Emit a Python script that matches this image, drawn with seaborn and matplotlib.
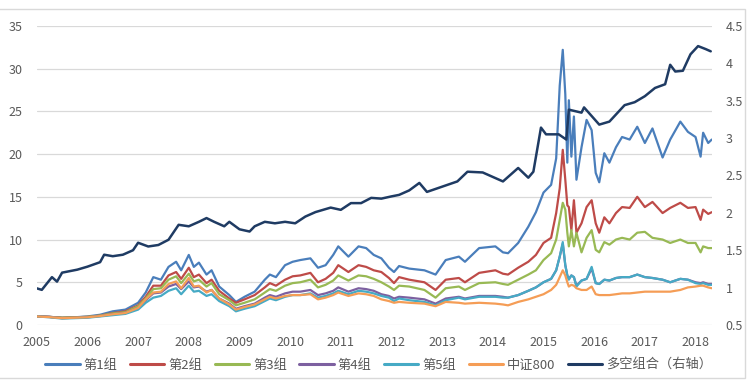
import numpy as np
import pandas as pd
import matplotlib
matplotlib.use("Agg")
import matplotlib.pyplot as plt
from matplotlib.lines import Line2D
from matplotlib.patches import Rectangle
import seaborn as sns

# 左轴各组净值（按日期取样读数）
dates = [2005.0, 2005.25, 2005.5, 2005.75, 2006.0, 2006.25, 2006.5, 2006.75, 2007.0, 2007.15,
         2007.3, 2007.45, 2007.6, 2007.75, 2007.85, 2008.0, 2008.1, 2008.2, 2008.35, 2008.45,
         2008.6, 2008.8, 2008.93, 2009.1, 2009.3, 2009.5, 2009.6, 2009.72, 2009.9, 2010.05,
         2010.2, 2010.4, 2010.55, 2010.7, 2010.85, 2010.95, 2011.15, 2011.35, 2011.5, 2011.65,
         2011.8, 2011.95, 2012.05, 2012.15, 2012.35, 2012.65, 2012.87, 2013.07, 2013.33, 2013.45,
         2013.73, 2014.05, 2014.2, 2014.3, 2014.5, 2014.7, 2014.85, 2015.0, 2015.15, 2015.25,
         2015.32, 2015.38, 2015.43, 2015.47, 2015.5, 2015.55, 2015.6, 2015.65, 2015.75, 2015.85,
         2015.95, 2016.03, 2016.1, 2016.2, 2016.3, 2016.43, 2016.55, 2016.7, 2016.85, 2017.0,
         2017.15, 2017.35, 2017.5, 2017.7, 2017.85, 2018.0, 2018.1, 2018.15, 2018.25, 2018.32]

g1 = [1.0, 0.95, 0.85, 0.9, 1.0, 1.2, 1.6, 1.8, 2.6, 3.8,
      5.6, 5.3, 6.8, 7.4, 6.4, 8.2, 6.8, 7.3, 5.9, 6.4,
      4.5, 3.5, 2.7, 3.3, 3.9, 5.3, 5.9, 5.6, 7.0, 7.4,
      7.6, 7.8, 6.7, 7.0, 8.2, 9.2, 8.0, 9.2, 9.0, 8.2,
      7.8, 6.7, 6.2, 6.9, 6.6, 6.4, 5.9, 7.6, 8.0, 7.4,
      9.0, 9.2, 8.5, 8.4, 9.6, 11.5, 13.2, 15.5, 16.4, 19.5,
      28.0, 32.2, 27.0, 19.0, 26.3, 19.7, 24.4, 17.0, 20.8, 24.0,
      22.8, 17.8, 16.7, 20.1, 19.0, 20.8, 22.0, 21.7, 23.2, 21.3,
      23.0, 19.6, 21.7, 23.8, 22.6, 22.0, 19.7, 22.5, 21.3, 21.7]

g2 = [1.0, 0.95, 0.85, 0.9, 0.95, 1.1, 1.4, 1.6, 2.3, 3.3,
      4.6, 4.6, 5.8, 6.2, 5.4, 6.7, 5.6, 5.9, 4.9, 5.3,
      4.0, 3.1, 2.6, 3.0, 3.5, 4.4, 4.9, 4.6, 5.3, 5.7,
      5.8, 6.1, 5.0, 5.4, 6.1, 7.0, 6.2, 7.0, 6.8, 6.4,
      6.2, 5.5, 4.9, 5.6, 5.3, 5.0, 4.1, 5.3, 5.5, 5.0,
      6.1, 6.4, 6.0, 5.9, 6.7, 7.4, 8.2, 9.6, 10.2, 13.1,
      16.0, 20.5, 17.0, 14.0, 13.8, 11.1, 14.6, 10.8, 11.9, 13.8,
      14.6, 11.9, 10.8, 12.6, 11.9, 13.1, 13.8, 13.7, 15.0, 13.8,
      14.4, 13.1, 13.7, 14.3, 13.7, 13.8, 12.3, 13.5, 13.0, 13.2]

g3 = [1.0, 0.95, 0.85, 0.9, 0.95, 1.1, 1.35, 1.5, 2.2, 3.1,
      4.2, 4.3, 5.3, 5.7, 4.9, 6.0, 5.1, 5.3, 4.5, 4.9,
      3.6, 2.9, 2.3, 2.6, 3.0, 3.8, 4.2, 4.0, 4.6, 4.9,
      5.0, 5.3, 4.4, 4.7, 5.2, 5.8, 5.2, 5.8, 5.7, 5.4,
      5.0, 4.5, 4.1, 4.6, 4.5, 4.1, 3.2, 4.3, 4.5, 4.1,
      4.9, 5.0, 4.8, 4.7, 5.3, 5.9, 6.4, 7.6, 8.4, 10.0,
      12.3, 14.3, 13.5, 10.8, 9.2, 11.1, 9.2, 10.8, 8.5, 10.2,
      11.1, 8.8, 8.5, 9.7, 9.4, 10.0, 10.2, 10.0, 10.8, 10.9,
      10.2, 10.0, 9.6, 10.0, 9.6, 9.6, 8.5, 9.2, 9.0, 9.0]

g4 = [1.0, 0.95, 0.8, 0.85, 0.9, 1.05, 1.25, 1.4, 2.0, 2.9,
      3.7, 3.8, 4.5, 4.8, 4.2, 5.1, 4.4, 4.5, 3.9, 4.1,
      3.1, 2.5, 1.9, 2.2, 2.5, 3.2, 3.5, 3.3, 3.7, 3.9,
      3.9, 4.1, 3.5, 3.7, 4.0, 4.4, 3.9, 4.3, 4.2, 4.0,
      3.6, 3.4, 3.1, 3.3, 3.2, 3.0, 2.5, 3.1, 3.3, 3.1,
      3.4, 3.4, 3.3, 3.2, 3.5, 4.0, 4.4, 5.0, 5.4, 6.4,
      8.0, 9.5, 7.0, 5.8, 5.4, 5.8, 5.6, 4.6, 5.2, 5.4,
      6.6, 4.9, 4.8, 5.3, 5.2, 5.5, 5.6, 5.6, 5.9, 5.6,
      5.5, 5.3, 5.0, 5.4, 5.3, 5.0, 4.9, 5.0, 4.8, 4.8]

g5 = [1.0, 0.9, 0.75, 0.8, 0.85, 1.0, 1.15, 1.3, 1.8, 2.6,
      3.2, 3.4, 4.0, 4.3, 3.6, 4.6, 3.9, 4.0, 3.4, 3.6,
      2.8, 2.2, 1.6, 1.9, 2.2, 2.8, 3.1, 2.9, 3.3, 3.5,
      3.5, 3.7, 3.2, 3.4, 3.7, 4.0, 3.6, 4.0, 3.9, 3.7,
      3.4, 3.2, 2.8, 3.1, 2.9, 2.7, 2.3, 2.9, 3.2, 3.0,
      3.3, 3.3, 3.2, 3.2, 3.5, 4.0, 4.4, 5.0, 5.4, 6.4,
      8.0, 9.7, 7.0, 5.8, 5.3, 5.8, 5.6, 4.5, 5.2, 5.4,
      6.8, 4.9, 4.8, 5.3, 5.2, 5.5, 5.6, 5.6, 5.9, 5.6,
      5.5, 5.3, 5.0, 5.4, 5.3, 4.9, 4.8, 4.9, 4.7, 4.7]

csi800 = [1.0, 0.92, 0.8, 0.85, 0.9, 1.05, 1.25, 1.4, 2.0, 3.0,
          3.8, 3.9, 4.8, 5.1, 4.3, 5.5, 4.5, 4.6, 3.8, 4.1,
          3.1, 2.4, 1.8, 2.1, 2.4, 3.0, 3.3, 3.1, 3.4, 3.5,
          3.5, 3.6, 3.0, 3.2, 3.5, 3.8, 3.4, 3.7, 3.6, 3.4,
          3.0, 2.8, 2.6, 2.7, 2.6, 2.5, 2.2, 2.7, 2.6, 2.5,
          2.6, 2.5, 2.4, 2.3, 2.7, 3.0, 3.3, 3.6, 4.1, 4.7,
          5.6, 6.4, 5.8, 5.0, 4.5, 4.7, 4.6, 4.3, 4.1, 4.1,
          4.5, 3.6, 3.5, 3.5, 3.5, 3.6, 3.7, 3.7, 3.8, 3.9,
          3.9, 3.9, 3.9, 4.1, 4.4, 4.5, 4.6, 4.6, 4.4, 4.3]

# 多空组合（右轴）
ls_dates = [2005.0, 2005.1, 2005.3, 2005.4, 2005.5, 2005.8, 2006.0, 2006.25, 2006.33, 2006.5,
            2006.7, 2006.9, 2007.0, 2007.2, 2007.4, 2007.6, 2007.8, 2008.0, 2008.2, 2008.35,
            2008.5, 2008.7, 2008.8, 2009.0, 2009.2, 2009.3, 2009.5, 2009.7, 2009.9, 2010.1,
            2010.3, 2010.5, 2010.8, 2011.0, 2011.2, 2011.4, 2011.6, 2011.8, 2012.0, 2012.15,
            2012.35, 2012.55, 2012.7, 2013.0, 2013.3, 2013.5, 2013.8, 2013.9, 2014.2, 2014.5,
            2014.7, 2014.8, 2014.95, 2015.05, 2015.3, 2015.45, 2015.5, 2015.75, 2015.8, 2016.1,
            2016.3, 2016.6, 2016.8, 2017.0, 2017.2, 2017.4, 2017.5, 2017.6, 2017.75, 2017.9,
            2018.05, 2018.2, 2018.3]
ls_vals = [0.99, 0.97, 1.14, 1.08, 1.2, 1.24, 1.28, 1.34, 1.44, 1.42,
           1.44, 1.5, 1.6, 1.55, 1.57, 1.64, 1.84, 1.82, 1.88, 1.93,
           1.88, 1.82, 1.88, 1.78, 1.75, 1.82, 1.88, 1.86, 1.88, 1.86,
           1.95, 2.01, 2.07, 2.04, 2.13, 2.13, 2.2, 2.19, 2.22, 2.24,
           2.3, 2.4, 2.28, 2.35, 2.42, 2.55, 2.54, 2.51, 2.42, 2.6,
           2.47, 2.55, 3.14, 3.05, 3.05, 2.98, 3.38, 3.34, 3.41, 3.18,
           3.22, 3.44, 3.48, 3.56, 3.67, 3.72, 3.98, 3.89, 3.9, 4.12,
           4.23, 4.19, 4.16]

names = ['第1组', '第2组', '第3组', '第4组', '第5组', '中证800']
colors = ['#4A7EBB', '#BE4B48', '#98B954', '#7D60A0', '#46AAC5', '#F59D56']
ls_name = '多空组合（右轴）'
ls_color = '#1F3B63'
years = list(range(2005, 2019))

df = pd.DataFrame({
    'date': dates * 6,
    'value': g1 + g2 + g3 + g4 + g5 + csi800,
    'group': sum([[n] * len(dates) for n in names], []),
})
df_ls = pd.DataFrame({'date': ls_dates, 'value': ls_vals})

sns.set_theme(style='white')
plt.rcParams['font.family'] = ['Noto Sans CJK SC', 'DejaVu Sans']

fig = plt.figure(figsize=(7.5, 3.81), dpi=100)
ax = fig.add_axes([0.049, 0.147, 0.9, 0.785])

sns.lineplot(data=df, x='date', y='value', hue='group', hue_order=names,
             palette=colors, linewidth=1.6, legend=False, ax=ax)
ax.set_xlim(2005, 2018.32)
ax.set_ylim(0, 35)
ax.set_yticks(range(0, 36, 5))
ax.set_xticks(years)
ax.set_xticklabels([str(y) for y in years])
ax.grid(axis='y', color='#D9D9D9', linewidth=0.9)
ax.set_axisbelow(True)
ax.set_xlabel('')
ax.set_ylabel('')
for s in ax.spines.values():
    s.set_visible(False)
ax.tick_params(axis='x', length=0, pad=8, labelsize=9, labelcolor='#595959')
ax.tick_params(axis='y', length=0, pad=10, labelsize=9, labelcolor='#595959')

ax2 = ax.twinx()
sns.lineplot(data=df_ls, x='date', y='value', color=ls_color, linewidth=1.8, ax=ax2)
ax2.set_ylim(0.5, 4.5)
ax2.set_yticks(np.arange(0.5, 4.51, 0.5))
ax2.set_yticklabels([f'{v:g}' for v in np.arange(0.5, 4.51, 0.5)])
ax2.set_ylabel('')
ax2.grid(False)
for s in ax2.spines.values():
    s.set_visible(False)
ax2.tick_params(axis='y', length=0, pad=10, labelsize=9, labelcolor='#595959')

handles = [Line2D([], [], color=c, linewidth=2.2) for c in colors]
handles.append(Line2D([], [], color=ls_color, linewidth=2.2))
labels = names + [ls_name]
fig.legend(handles, labels, loc='center', bbox_to_anchor=(0.505, 0.042), ncol=7,
           frameon=False, fontsize=9.5, handlelength=2.6, handletextpad=0.3,
           columnspacing=0.95, labelcolor='#595959')

fig.patches.append(Rectangle((-0.01, 0.008), 1.003, 0.968, transform=fig.transFigure,
                             fill=False, edgecolor='#D9D9D9', linewidth=1.0))

fig.savefig('out.png', dpi=100)
